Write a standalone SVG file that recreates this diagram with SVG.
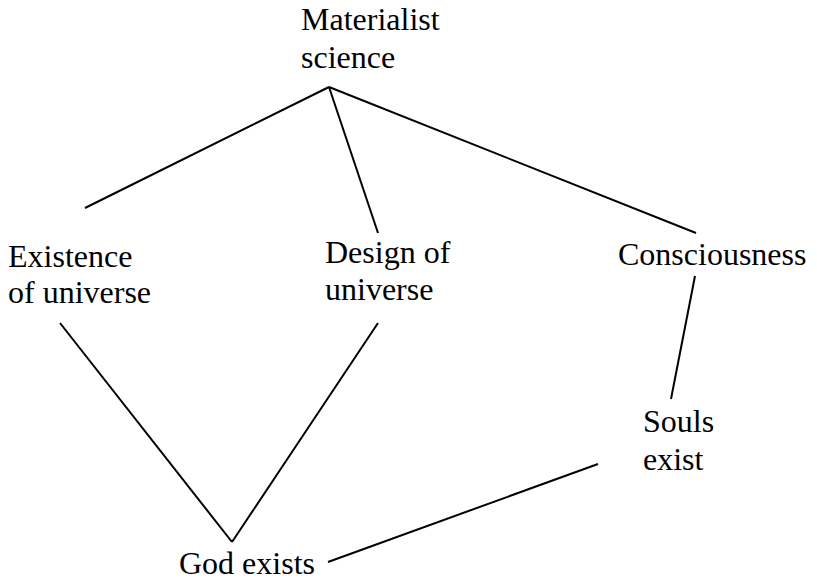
<svg xmlns="http://www.w3.org/2000/svg" width="817" height="580" viewBox="0 0 817 580">
<style>
.c line{stroke:#000;stroke-width:2;stroke-linecap:butt}
</style>
<rect width="817" height="580" fill="#fff"/>
<g class="c" id="connectors">
<line x1="329" y1="87" x2="85" y2="208"/>
<line x1="329" y1="87" x2="378" y2="233"/>
<line x1="329" y1="87" x2="696" y2="233"/>
<line x1="695" y1="276" x2="671" y2="399"/>
<line x1="60" y1="323" x2="232" y2="542"/>
<line x1="378" y1="323" x2="232" y2="542"/>
<line x1="598" y1="464" x2="328" y2="562"/>
</g>
<g font-family="Times, 'Liberation Serif', 'DejaVu Serif', serif" font-size="32" fill="#000">
<g id="materialist"><text x="301" y="30">Materialist</text><text x="301" y="68">science</text></g>
<g id="existence"><text x="8" y="267">Existence</text><text x="8" y="303">of universe</text></g>
<g id="design"><text x="325" y="263">Design of</text><text x="325" y="300">universe</text></g>
<g id="consciousness"><text x="618" y="265">Consciousness</text></g>
<g id="souls"><text x="643" y="432">Souls</text><text x="643" y="470">exist</text></g>
<g id="god"><text x="179" y="574">God exists</text></g>
</g>
</svg>
